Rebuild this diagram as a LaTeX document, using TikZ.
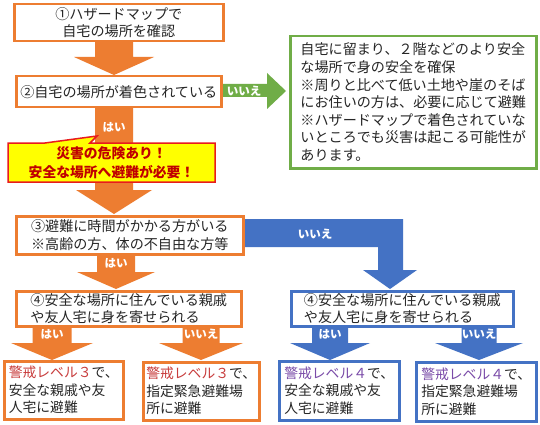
\documentclass[tikz,border=0pt]{standalone}
\usepackage{fontspec}
\setmainfont{Noto Sans CJK JP}
\definecolor{orgc}{HTML}{ED7D31}
\definecolor{bluec}{HTML}{4472C4}
\definecolor{grnc}{HTML}{70AD47}
\definecolor{yelc}{HTML}{FFFF00}
\definecolor{calred}{HTML}{E81C1C}
\definecolor{caltxt}{HTML}{C00000}
\definecolor{lvthree}{HTML}{C83C3C}
\definecolor{lvfour}{HTML}{7A4BA8}
\definecolor{txt}{HTML}{262626}
\newcommand\dnarrow[7]{\fill[#1] (#2-#6,#3) -- (#2+#6,#3) -- (#2+#6,#4) -- (#2+#7,#4) -- (#2,#5) -- (#2-#7,#4) -- (#2-#6,#4) -- cycle;}
\begin{document}
\begin{tikzpicture}[x=1pt,y=-1pt,
  box/.style={draw, line width=2.5pt, fill=white, inner sep=0pt, anchor=north west, align=left, text=txt, font=\fontsize{14.1}{17.6}\selectfont},
  obox/.style={box, draw=orgc},
  gbox/.style={box, draw=grnc},
  bbox/.style={box, draw=bluec},
  sbox/.style={font=\fontsize{13.8}{17.5}\selectfont},
  lbl/.style={text=white, font=\bfseries\fontsize{11.5}{12}\selectfont, inner sep=0pt}]
\useasboundingbox (0,0) rectangle (540,425);
\fill[white] (0,0) rectangle (540,425);
% block arrows
\dnarrow{orgc}{114}{40}{57}{75}{19}{40}
\dnarrow{orgc}{114}{106}{190}{214}{19}{38}
\dnarrow{orgc}{116}{253}{272}{289}{19}{39}
\dnarrow{orgc}{52}{325}{343}{360}{19.5}{41}
\dnarrow{orgc}{201}{325}{343}{360}{18.5}{42}
\dnarrow{bluec}{330}{325}{343}{360}{18}{40}
\dnarrow{bluec}{479}{325}{343}{360}{17.5}{44}
\fill[grnc] (220,84) -- (267,84) -- (267,73) -- (286,91) -- (267,109) -- (267,97) -- (220,97) -- cycle;
\fill[bluec] (242,219) -- (403,219) -- (403,270) -- (417,270) -- (390,289) -- (363,270) -- (378,270) -- (378,247) -- (242,247) -- cycle;
% boxes
\node[obox, minimum width=209pt, minimum height=37pt, align=center] (b1) at (13,3) {①ハザードマップで\\自宅の場所を確認};
\node[obox, minimum width=205pt, minimum height=31pt] (b2) at (15,75) {②自宅の場所が着色されている};
\node[gbox, minimum width=246pt, minimum height=132pt] (g1) at (289,35) {自宅に留まり、２階などのより安全\\な場所で身の安全を確保\\※周りと比べて低い土地や崖のそば\\にお住いの方は、必要に応じて避難\\※ハザードマップで着色されていな\\いところでも災害は起こる可能性が\\あります。};
\node[obox, minimum width=227pt, minimum height=38pt] (b3) at (15,215) {③避難に時間がかかる方がいる\\※高齢の方、体の不自由な方等};
\node[obox, minimum width=225pt, minimum height=35pt] (b4l) at (15,290) {④安全な場所に住んでいる親戚\\や友人宅に身を寄せられる};
\node[bbox, minimum width=222pt, minimum height=35pt] (b4r) at (290,290) {④安全な場所に住んでいる親戚\\や友人宅に身を寄せられる};
\node[obox, sbox, minimum width=119pt, minimum height=58pt] (b5a) at (3,360) {{\color{lvthree}警戒レベル３}で、\\安全な親戚や友\\人宅に避難};
\node[obox, sbox, minimum width=116pt, minimum height=58pt] (b5b) at (142,361) {{\color{lvthree}警戒レベル３}で、\\指定緊急避難場\\所に避難};
\node[bbox, sbox, minimum width=120pt, minimum height=59pt] (b6a) at (278,360) {{\color{lvfour}警戒レベル４}で、\\安全な親戚や友\\人宅に避難};
\node[bbox, sbox, minimum width=120pt, minimum height=59pt] (b6b) at (415,361) {{\color{lvfour}警戒レベル４}で、\\指定緊急避難場\\所に避難};
% callout
\filldraw[fill=yelc, draw=calred, line width=1.5pt] (8,143) -- (45,143) -- (97,136) -- (90,143) -- (215,143) -- (215,182) -- (8,182) -- cycle;
\node[text=caltxt, font=\bfseries\fontsize{13.8}{19}\selectfont, align=center, inner sep=0pt] (call) at (111.5,162.5) {災害の危険あり！\\安全な場所へ避難が必要！};
% labels
\node[lbl] (l1) at (114,127) {はい};
\node[lbl] (l2) at (244,91) {いいえ};
\node[lbl] (l3) at (116,263) {はい};
\node[lbl] (l4) at (315,234) {いいえ};
\node[lbl] (l5) at (52,334) {はい};
\node[lbl] (l6) at (201,334) {いいえ};
\node[lbl] (l7) at (330,334) {はい};
\node[lbl] (l8) at (479,334) {いいえ};
\end{tikzpicture}
\end{document}
